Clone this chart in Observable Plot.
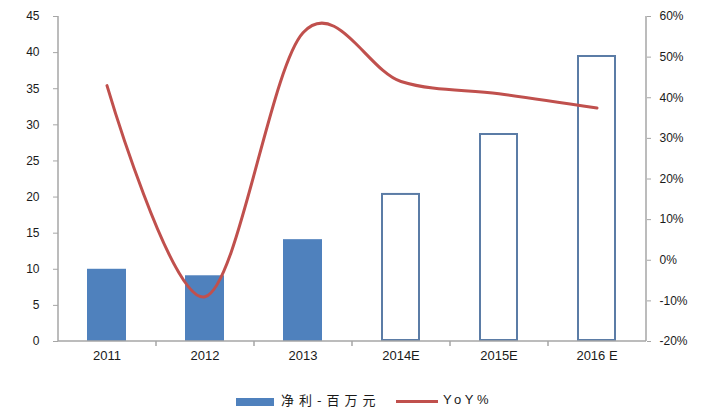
<!DOCTYPE html>
<html>
<head>
<meta charset="utf-8">
<script src="https://cdn.jsdelivr.net/npm/d3@7"></script>
<script src="https://cdn.jsdelivr.net/npm/@observablehq/plot@0.6"></script>
<style>
  body { margin: 0; background: #fff; font-family: "Liberation Sans", Arial, sans-serif; }
  #chart { width: 710px; height: 380px; }
  #legend { position: relative; width: 710px; height: 34px; }
  #legend .sw { position: absolute; }
  #legend .lbl { position: absolute; top: 12px; font-size: 13px; line-height: 16px; color: #1a1a1a; }
</style>
</head>
<body>
<div id="chart"></div>
<div id="legend"></div>
<script>
// Years, net profit (million yuan) and year-on-year growth (%)
const years = ["2011", "2012", "2013", "2014E", "2015E", "2016 E"];
const profit = [10.0, 9.1, 14.1, 20.5, 28.8, 39.6];
const yoy = [43, -9, 56, 44, 41, 37.5];
const estimated = [false, false, false, true, true, true];

const leftTicks = [0, 5, 10, 15, 20, 25, 30, 35, 40, 45];
const rightTicks = [-20, -10, 0, 10, 20, 30, 40, 50, 60];
const seriesNames = ["净利-百万元", "YoY%"];

const leftMax = 45;
const pctMin = -20, pctMax = 60;
// growth rates share the left scale, mapped linearly onto [0, 45]
const toLeft = p => (p - pctMin) / (pctMax - pctMin) * leftMax;
const fromLeft = v => v / leftMax * (pctMax - pctMin) + pctMin;

const rows = years.map((year, i) => ({year, profit: profit[i], yoy: yoy[i], est: estimated[i]}));

const axisGray = "#a6a6a6";
const textColor = "#1a1a1a";

const plot = Plot.plot({
  width: 710,
  height: 380,
  marginLeft: 58,
  marginRight: 64,
  marginTop: 16,
  marginBottom: 39,
  style: {fontFamily: "'Liberation Sans', Arial, sans-serif", fontSize: "12px", background: "#fff", color: textColor},
  x: {domain: years, paddingInner: 0.6, paddingOuter: 0.3},
  y: {domain: [0, leftMax]},
  marks: [
    Plot.barY(rows.filter(d => !d.est), {x: "year", y: "profit", fill: "#4f81bd"}),
    Plot.barY(rows.filter(d => d.est), {x: "year", y: "profit", fill: "#fff", stroke: "#5b7ca6", strokeWidth: 2, inset: 1}),
    Plot.axisY(leftTicks, {anchor: "left", label: null, tickSize: 5, tickPadding: 14, stroke: axisGray, fill: textColor, fontSize: 12}),
    Plot.axisY(rightTicks.map(toLeft), {anchor: "right", label: null, tickSize: 4, tickPadding: 9, stroke: axisGray, fill: textColor, fontSize: 12,
      tickFormat: v => Math.round(fromLeft(v)) + "%"}),
    Plot.axisX({label: null, tickSize: 0, tickPadding: 9, fill: textColor, fontSize: 13}),
    Plot.line(rows, {x: "year", y: d => toLeft(d.yoy), stroke: "#c0504d", strokeWidth: 3, curve: "cardinal", tension: 0})
  ]
});

document.getElementById("chart").appendChild(plot);

// axis lines and category separators, derived from the plot's scales
const sx = plot.scale("x"), sy = plot.scale("y");
const [x0, x1] = sx.range;
const yBase = sy.range[0], yTop = sy.range[1];
const step = (x1 - x0) / years.length;
const svg = d3.select(plot);
const g = svg.append("g").attr("stroke", axisGray).attr("stroke-width", 1.5);
g.append("line").attr("x1", x0).attr("x2", x0).attr("y1", yTop).attr("y2", yBase);
g.append("line").attr("x1", x1).attr("x2", x1).attr("y1", yTop).attr("y2", yBase);
g.append("line").attr("x1", x0).attr("x2", x1).attr("y1", yBase).attr("y2", yBase);
for (let i = 1; i < years.length; i++) {
  const x = x0 + i * step;
  g.append("line").attr("x1", x).attr("x2", x).attr("y1", yBase).attr("y2", yBase + 5);
}
// keep the growth line above the axis lines
svg.node().appendChild(svg.select("g[aria-label='line']").node());

// legend
const legend = d3.select("#legend");
legend.append("div").attr("class", "sw")
  .style("left", "236px").style("top", "18px").style("width", "38px").style("height", "8px").style("background", "#4f81bd");
legend.append("div").attr("class", "lbl").style("left", "281px").style("letter-spacing", "5px")
  .style("font-family", "'Noto Sans CJK SC', sans-serif").text(seriesNames[0]);
legend.append("div").attr("class", "sw")
  .style("left", "396px").style("top", "20px").style("width", "42px").style("height", "3px").style("background", "#c0504d");
legend.append("div").attr("class", "lbl").style("left", "443px").style("letter-spacing", "3.5px").text(seriesNames[1]);
</script>
</body>
</html>
